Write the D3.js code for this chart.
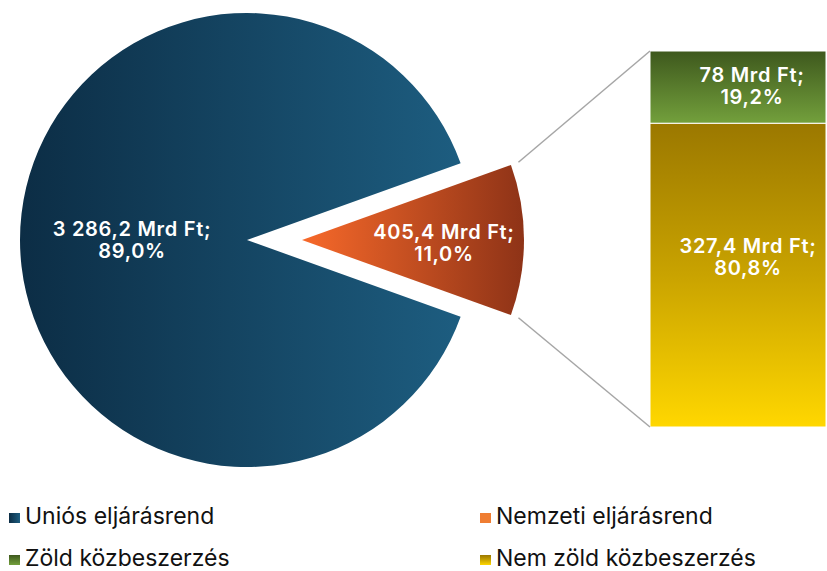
<!DOCTYPE html>
<html>
<head>
<meta charset="utf-8">
<script src="https://cdn.jsdelivr.net/npm/d3@7"></script>
<style>
  body { margin: 0; background: #fff; }
  svg { display: block; }
</style>
</head>
<body>
<svg id="chart" width="827" height="571"></svg>
<script>
// main split (pie)
const procedures = ['Nemzeti eljárásrend', 'Uniós eljárásrend'];
const procValues = [405.4, 3286.2];
const procLabels = ['405,4 Mrd Ft;', '3 286,2 Mrd Ft;'];
const procPercents = ['11,0%', '89,0%'];

// breakdown of the national part (bar)
const greenCats = ['Zöld közbeszerzés', 'Nem zöld közbeszerzés'];
const greenValues = [78, 327.4];
const greenLabels = ['78 Mrd Ft;', '327,4 Mrd Ft;'];
const greenPercents = ['19,2%', '80,8%'];

const legendItems = ['Uniós eljárásrend', 'Nemzeti eljárásrend', 'Zöld közbeszerzés', 'Nem zöld közbeszerzés'];

const svg = d3.select('#chart');
const defs = svg.append('defs');

const addGrad = (id, stops, vertical) => {
    let g = defs.append('linearGradient').attr('id', id)
        .attr('x1', 0).attr('y1', 0)
        .attr('x2', vertical ? 0 : 1).attr('y2', vertical ? 1 : 0);
    stops.forEach((c, i) => {
        g.append('stop').attr('offset', i / (stops.length - 1)).attr('stop-color', c);
    });
};
addGrad('gBlue', ['#0c2d45', '#1d5d80'], false);
addGrad('gOrange', ['#f7692a', '#8e3317'], false);
addGrad('gGreen', ['#3e581d', '#73a03c'], true);
addGrad('gGold', ['#9b7800', '#c9a300', '#ffd700'], true);

const cx = 247, cy = 240, r = 227;
const explode = 55;

const total = d3.sum(procValues);
const frac = procValues[0] / total;

const pie = d3.pie().sort(null)
    .startAngle(Math.PI / 2 - frac * Math.PI)
    .endAngle(Math.PI / 2 - frac * Math.PI + 2 * Math.PI);
const arcs = pie(procValues);

const arc = d3.arc().innerRadius(0);
const fills = ['url(#gOrange)', 'url(#gBlue)'];
const radii = [222, r];
const labelR = [142, 115];
const labelDy = [-8, -11];

const labelStyle = (t) => t.attr('text-anchor', 'middle')
    .attr('fill', '#fff')
    .style('font-family', 'Inter, sans-serif')
    .style('font-weight', 600)
    .style('font-size', '20px')
    .style('letter-spacing', '0.7px');

const pieG = svg.append('g');
arcs.forEach((a, i) => {
    let mid = (a.startAngle + a.endAngle) / 2;
    let off = i === 0 ? explode : 0;
    let ox = cx + Math.sin(mid) * off;
    let oy = cy - Math.cos(mid) * off;
    let g = pieG.append('g').attr('transform', 'translate(' + ox + ',' + oy + ')');
    g.append('path')
        .attr('d', arc.outerRadius(radii[i])(a))
        .attr('fill', fills[i]);
    let lx = Math.sin(mid) * labelR[i];
    let ly = -Math.cos(mid) * labelR[i] + labelDy[i];
    let t = g.append('text').call(labelStyle);
    t.append('tspan').attr('x', lx).attr('y', ly + 7).text(procLabels[i]);
    t.append('tspan').attr('x', lx).attr('y', ly + 29).text(procPercents[i]);
});

// bar of pie
const barX = 650, barW = 176, barTop = 51, barBottom = 427;
const y = d3.scaleLinear().domain([0, d3.sum(greenValues)]).range([barTop, barBottom]);
const cum = d3.cumsum(greenValues);
const barFills = ['url(#gGreen)', 'url(#gGold)'];
const barLabelDx = [14, 10];
const barLabelDy = [-5, -22];
const barG = svg.append('g');
greenValues.forEach((v, i) => {
    let y0 = y(cum[i] - v), y1 = y(cum[i]);
    barG.append('rect')
        .attr('x', barX).attr('y', y0)
        .attr('width', barW).attr('height', y1 - y0)
        .attr('fill', barFills[i])
        .attr('stroke', '#fff').attr('stroke-width', 1);
    let lx = barX + barW / 2 + barLabelDx[i];
    let ly = (y0 + y1) / 2 + barLabelDy[i];
    let t = barG.append('text').call(labelStyle);
    t.append('tspan').attr('x', lx).attr('y', ly).text(greenLabels[i]);
    t.append('tspan').attr('x', lx).attr('y', ly + 22).text(greenPercents[i]);
});

// connector lines from the exploded slice to the bar
const sA = arcs[0];
const smid = (sA.startAngle + sA.endAngle) / 2;
const sx = cx + Math.sin(smid) * explode, sy = cy - Math.cos(smid) * explode;
const cr = 230;
const p1 = [sx + Math.sin(sA.startAngle) * cr, sy - Math.cos(sA.startAngle) * cr];
const p2 = [sx + Math.sin(sA.endAngle) * cr, sy - Math.cos(sA.endAngle) * cr];
svg.append('line').attr('x1', p1[0]).attr('y1', p1[1]).attr('x2', barX).attr('y2', barTop)
    .attr('stroke', '#a6a6a6').attr('stroke-width', 1.5);
svg.append('line').attr('x1', p2[0]).attr('y1', p2[1]).attr('x2', barX).attr('y2', barBottom)
    .attr('stroke', '#a6a6a6').attr('stroke-width', 1.5);

// legend
const legendFills = ['url(#gBlue)', '#ef7d32', 'url(#gGreen)', 'url(#gGold)'];
const legend = svg.append('g');
legendItems.forEach((name, i) => {
    let col = i % 2, row = Math.floor(i / 2);
    let lx = col === 0 ? 9 : 480;
    let ly = 524 + row * 42;
    legend.append('rect')
        .attr('x', lx).attr('y', ly - 11)
        .attr('width', 11).attr('height', 10)
        .attr('fill', legendFills[i]);
    legend.append('text')
        .attr('x', lx + 16).attr('y', ly)
        .attr('fill', '#111')
        .style('font-family', 'Inter, sans-serif')
        .style('font-size', '23px')
        .text(name);
});
</script>
</body>
</html>
